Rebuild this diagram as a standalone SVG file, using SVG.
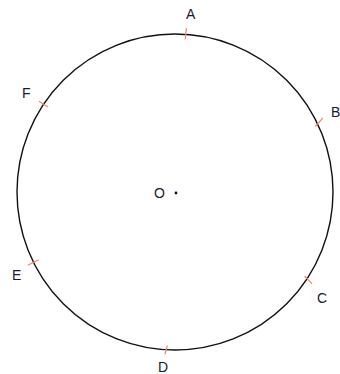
<svg xmlns="http://www.w3.org/2000/svg" width="340" height="374" viewBox="0 0 340 374">
<style>
.lbl{font-family:"Liberation Sans",Arial,sans-serif;font-size:14px;fill:#1a1a2e}
.tick{stroke:#ee8866;stroke-width:1.2;stroke-linecap:round}
</style>
<rect width="340" height="374" fill="#fff"/>
<g id="circle">
<circle cx="175" cy="192" r="158" fill="none" stroke="#111" stroke-width="1.4"/>
</g>
<g id="center">
<circle cx="176" cy="193" r="1.4" fill="#111"/>
<text class="lbl" x="154" y="198">O</text>
</g>
<g id="connectors">
<line class="tick" x1="185.3" y1="39" x2="186.4" y2="28.5"/>
<line class="tick" x1="315.7" y1="126" x2="322.5" y2="118.3"/>
<line class="tick" x1="305" y1="276.5" x2="311.7" y2="283.3"/>
<line class="tick" x1="165" y1="354" x2="167.3" y2="346"/>
<line class="tick" x1="28.3" y1="265" x2="38.3" y2="260"/>
<line class="tick" x1="39.3" y1="101.5" x2="47.7" y2="106.7"/>
</g>
<g id="A"><text class="lbl" x="186" y="19">A</text></g>
<g id="B"><text class="lbl" x="331" y="117">B</text></g>
<g id="C"><text class="lbl" x="317" y="303">C</text></g>
<g id="D"><text class="lbl" x="158" y="371.5">D</text></g>
<g id="E"><text class="lbl" x="12" y="280">E</text></g>
<g id="F"><text class="lbl" x="22" y="98">F</text></g>
</svg>
